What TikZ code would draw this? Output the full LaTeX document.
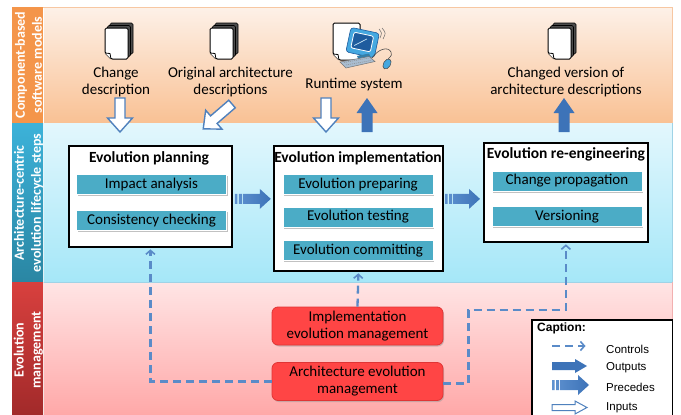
\documentclass[tikz,border=0pt]{standalone}
\usepackage{fontspec}
\setmainfont{Carlito}
\newfontfamily\capfont{Liberation Sans}
\usetikzlibrary{arrows.meta,calc,shadows}

\definecolor{orbar}{HTML}{F4954A}
\definecolor{ortop}{HTML}{FDF1E8}
\definecolor{orbot}{HTML}{F9C194}
\definecolor{oredge}{HTML}{F7C7A2}
\definecolor{blbartop}{HTML}{3CB2D9}
\definecolor{blbarbot}{HTML}{2A86A3}
\definecolor{bltop}{HTML}{E3F7FD}
\definecolor{blbot}{HTML}{A5E7F8}
\definecolor{bledge}{HTML}{9FD3E6}
\definecolor{rdbartop}{HTML}{D8403E}
\definecolor{rdbarbot}{HTML}{A22A2A}
\definecolor{pktop}{HTML}{FFE5E5}
\definecolor{pkbot}{HTML}{FFA8A8}
\definecolor{pkedge}{HTML}{F2B0B0}
\definecolor{tealbox}{HTML}{4BACC6}
\definecolor{redbox}{HTML}{FF4545}
\definecolor{redboxedge}{HTML}{E03535}
\definecolor{arrblue}{HTML}{3D73B8}
\definecolor{arrlight}{HTML}{5F92D0}
\definecolor{dashblue}{HTML}{5A8BC8}
\definecolor{inedge}{HTML}{4F81BD}
\definecolor{monblue}{HTML}{45A8E0}
\definecolor{scrblue}{HTML}{1E5C9E}
\definecolor{kbdgray}{HTML}{A9BDD0}

% #1 options, #2 tail, #3 angle, #4 length, #5 shaft half width, #6 head half width, #7 head length
\newcommand{\blkarrow}[7]{%
  \path[#1, shift={#2}, rotate=#3] (0,-#5) -- ({#4-#7},-#5) -- ({#4-#7},-#6) -- (#4,0)
    -- ({#4-#7},#6) -- ({#4-#7},#5) -- (0,#5) -- cycle;}
% #1 tail, #2 length
\newcommand{\precarrow}[2]{%
  \shade[left color=arrlight, right color=arrblue, shift={#1}]
    (0,-5) rectangle (2.5,5) (4,-5) rectangle (7,5)
    (8,-5) -- ({#2-11},-5) -- ({#2-11},-10) -- (#2,0) -- ({#2-11},10) -- ({#2-11},5) -- (8,5) -- cycle;}

\begin{document}
\begin{tikzpicture}[x=1pt,y=-1pt,
  barlabel/.style={rotate=90, align=center, text=white, inner sep=0pt,
    font=\bfseries\fontsize{14}{17}\selectfont},
  toplabel/.style={align=center, inner sep=0pt, font=\fontsize{15}{17}\selectfont},
  stepbox/.style={draw=black, line width=1.8pt, fill=white, inner sep=0pt, anchor=north west},
  steptitle/.style={inner sep=0pt, font=\bfseries\fontsize{15.5}{18}\selectfont},
  taskbox/.style={fill=tealbox, draw=white, line width=0.8pt, minimum width=150pt, minimum height=20pt,
    inner sep=0pt, font=\fontsize{15}{17}\selectfont,
    drop shadow={shadow xshift=1pt, shadow yshift=-1.5pt, fill=black!40, opacity=0.6}},
  mgmtbox/.style={fill=redbox, draw=redboxedge, line width=0.8pt, rounded corners=6pt,
    minimum width=171pt, minimum height=38pt, align=center, inner sep=0pt,
    font=\fontsize{15}{17}\selectfont,
    drop shadow={shadow xshift=1pt, shadow yshift=-1.5pt, fill=black!40, opacity=0.5}},
  ctrl/.style={draw=dashblue, line width=2.3pt, dash pattern=on 8pt off 5pt,
    -{Straight Barb[length=4pt, width=9pt, line width=1.6pt]}, shorten >=1.5pt},
  inarrow/.style={fill=white, draw=inedge, line width=1.4pt, line join=miter},
  outarrow/.style={fill=arrblue},
  capbox/.style={fill=white, inner sep=0pt, minimum width=140pt, minimum height=95pt, anchor=north west},
  leglabel/.style={anchor=west, inner sep=0pt, font=\capfont\fontsize{11.5}{13}\selectfont},
  docs/.pic={
    \filldraw[fill=black!70, draw=black, line width=0.6pt, rounded corners=1.5pt] (5,-5) rectangle (28,26);
    \filldraw[fill=black!70, draw=black, line width=0.6pt, rounded corners=1.5pt] (2.5,-2.5) rectangle (25.5,28.5);
    \filldraw[fill=white, draw=black, line width=1pt, rounded corners=1.5pt]
      (0,0) -- (23,0) -- (23,31) -- (6,31) -- (0,25) -- cycle;
    \filldraw[fill=white, draw=black, line width=0.8pt] (0,25) -- (5,25.5) -- (6,31);
  }
]
\useasboundingbox (0,0) rectangle (681,415);

% ---------------- bands ----------------
\shade[top color=ortop, bottom color=orbot] (44,7) rectangle (672,123);
\shade[top color=bltop, bottom color=blbot] (44,123) rectangle (672,282);
\shade[top color=pktop, bottom color=pkbot] (44,282) rectangle (672,415);
\draw[oredge, line width=0.8pt] (12,7) -- (672,7) -- (672,123);
\draw[bledge, line width=0.8pt] (672,123) -- (672,282);
\draw[bledge, line width=0.8pt] (44,282) -- (672,282);
\draw[pkedge, line width=0.8pt] (672,282) -- (672,415);

\fill[orbar] (12,7) rectangle (43,123);
\shade[top color=blbartop, bottom color=blbarbot] (12,123) rectangle (43,282);
\shade[top color=rdbartop, bottom color=rdbarbot] (12,282) rectangle (43,415);

\node[barlabel] (lbl1) at (28.5,65) {Component-based\\software models};
\node[barlabel] (lbl2) at (28.5,203) {Architecture-centric\\evolution lifecycle steps};
\node[barlabel] (lbl3) at (28.5,350) {Evolution\\management};

% ---------------- top band: artefacts ----------------
\pic at (105,28) {docs};
\pic at (210,28) {docs};
\pic at (548,28) {docs};

% runtime system icon
\filldraw[fill=white, draw=black, line width=1pt, rounded corners=1.5pt]
  (333,23) -- (360,23) -- (360,60) -- (339,60) -- (333,54) -- cycle;
\filldraw[fill=white, draw=black, line width=0.8pt] (333,54) -- (338,54.5) -- (339,60);
\filldraw[fill=monblue, draw=scrblue, line width=0.6pt, rotate around={-12:(362,43)}, rounded corners=3pt]
  (348,30) rectangle (377,55);
\filldraw[fill=scrblue, draw=white, line width=0.8pt, rotate around={-12:(362,43)}, rounded corners=2pt]
  (352,34) rectangle (372,50);
\draw[white!70!monblue, line width=0.7pt, rotate around={-12:(362,43)}] (355,47) -- (366,38);
\fill[monblue!75!black] (357,56) -- (369,53.5) -- (371,58) -- (359,60.5) -- cycle;
\filldraw[fill=kbdgray, draw=black!55, line width=0.5pt] (340,62) -- (369,56.5) -- (375,61.5) -- (346,68) -- cycle;
\draw[black!45, line width=0.5pt, dash pattern=on 1pt off 1pt] (344,62.5) -- (369,58) (346,65) -- (371,60.5);
\draw[black!70, line width=0.6pt] (372,58) .. controls (378,49) and (388,46) .. (391,52) .. controls (392,55) .. (388,59);
\filldraw[fill=monblue, draw=black!70, line width=0.5pt, rotate around={-30:(387,64)}] (387,64) ellipse (3.5pt and 5.5pt);
\draw[black!60, line width=0.5pt] (379,29) .. controls (382,33) .. (380,38);
\draw[black!60, line width=0.5pt] (382,28) .. controls (386,33) .. (383,39);

\node[toplabel] (chg) at (116,82) {Change\\description};
\node[toplabel] (orig) at (230.5,82) {Original architecture\\descriptions};
\node[toplabel] (rts) at (354,84.5) {Runtime system};
\node[toplabel] (chv) at (566,82) {Changed version of\\architecture descriptions};

% ---------------- lifecycle steps ----------------
\node[stepbox, minimum width=163pt, minimum height=101pt] (plan) at (68,145) {};
\node[stepbox, minimum width=169pt, minimum height=125pt] (impl) at (273,145) {};
\node[stepbox, minimum width=164pt, minimum height=99pt] (reeng) at (483,142) {};

\node[steptitle] (plant) at (149,158) {Evolution planning};
\node[steptitle] (implt) at (358,158) {Evolution implementation};
\node[steptitle] (reengt) at (566,154) {Evolution re-engineering};

\node[taskbox] (ia) at (151.5,184) {Impact analysis};
\node[taskbox] (cc) at (151.5,220.5) {Consistency checking};
\node[taskbox] (ep) at (358,184.5) {Evolution preparing};
\node[taskbox] (et) at (358,217) {Evolution testing};
\node[taskbox] (ec) at (358,250.5) {Evolution committing};
\node[taskbox] (cp) at (567,181) {Change propagation};
\node[taskbox] (vs) at (567,216.5) {Versioning};

% inputs / outputs between top band and steps
\coordinate (in1) at (120,98);
\coordinate (in2) at (232,104);
\coordinate (in3) at (326,98);
\coordinate (out1) at (367,132);
\coordinate (out2) at (564,132);
\blkarrow{inarrow}{(in1)}{-90}{34}{5}{12.5}{14}
\blkarrow{inarrow}{(in2)}{220.8}{38}{5}{12.5}{14}
\blkarrow{inarrow}{(in3)}{-90}{34}{5}{12.5}{14}
\blkarrow{outarrow}{(out1)}{90}{34}{5.5}{10.5}{15}
\blkarrow{outarrow}{(out2)}{90}{34}{5.5}{10.5}{15}

% precedes
\precarrow{($(plan.east)+(2,2.5)$)}{36}
\precarrow{($(impl.west |- plan.east)+(172,2.5)$)}{35}

% ---------------- management ----------------
\node[mgmtbox] (iem) at (357.5,326) {Implementation\\evolution management};
\node[mgmtbox] (aem) at (357.5,381.5) {Architecture evolution\\management};

\draw[ctrl] (aem.west) -| (plan.south);
\draw[ctrl] (iem.north) -- (impl.south);
\draw[ctrl] ($(aem.east)+(0,2)$) -- ++(25,0) |- ($(reeng.south)+(0,67)$) -- (reeng.south);

% ---------------- caption ----------------
\node[capbox] (cap) at (532,320) {};
\draw[black, line width=1.5pt] (cap.south west) -- (cap.north west) -- (cap.north east) -- (cap.south east);
\node[anchor=north west, inner sep=0pt, font=\capfont\bfseries\fontsize{12}{14}\selectfont] (capt) at (537,322.5) {Caption:};

\coordinate (l1a) at (552,346);
\coordinate (l1b) at (587,346);
\draw[ctrl, line width=2pt] (l1a) -- (l1b);
\node[leglabel] (lctl) at (606,349) {Controls};

\coordinate (l2) at (552,366);
\blkarrow{outarrow}{(l2)}{0}{35}{4}{7}{12}
\node[leglabel] (lout) at (606,368) {Outputs};

\coordinate (l3) at (552,385);
\precarrow{(l3)}{37}
\node[leglabel] (lpre) at (606,387) {Precedes};

\coordinate (l4) at (552,407.5);
\blkarrow{inarrow, line width=1pt}{(l4)}{0}{35}{3}{6.5}{12}
\node[leglabel] (lin) at (606,407.5) {Inputs};
\end{tikzpicture}
\end{document}
